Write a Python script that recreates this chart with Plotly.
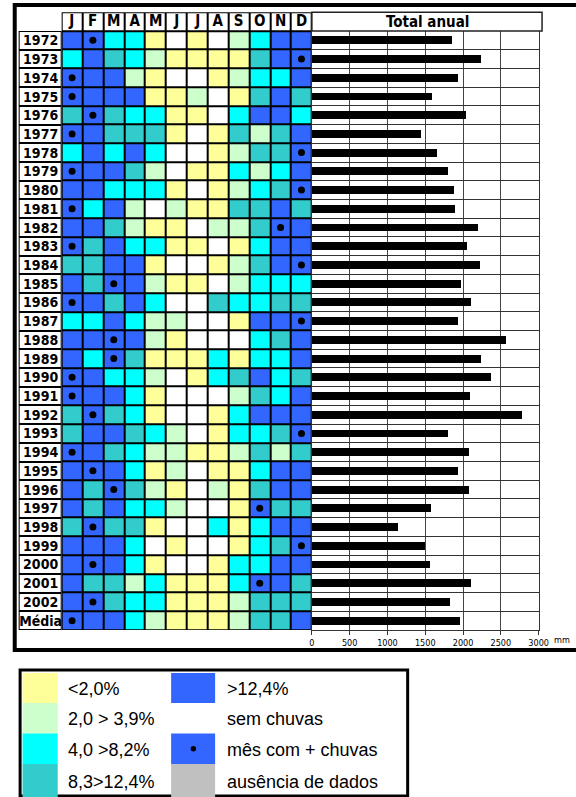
import plotly.graph_objects as go

years = ["1972", "1973", "1974", "1975", "1976", "1977", "1978", "1979", "1980",
         "1981", "1982", "1983", "1984", "1985", "1986", "1987", "1988", "1989",
         "1990", "1991", "1992", "1993", "1994", "1995", "1996", "1997", "1998",
         "1999", "2000", "2001", "2002", "Média"]
months = ["J", "F", "M", "A", "M", "J", "J", "A", "S", "O", "N", "D"]
# class per month: Y <2,0% | L 2,0>3,9% | C 4,0>8,2% | T 8,3>12,4% | B >12,4% | W sem chuvas
classes = [
    "BBCCYWYWLCBB", "CBTCLYYYYTBB", "BBBLYWWYLCCB", "BBBBYYLWYTBT",
    "TBTCCYYWCBBC", "BBTTTYWYTLTB", "CBCBCWWYLTTB", "BBBTLWYYCLCB",
    "BBCCCYWYLCTB", "BCBLWLYYTTBT", "BBTLYYWLLTBB", "BTBCCYYWYCBB",
    "TTBBYWWYLTBB", "BTBBLYYWLCCC", "BBTBCWWTCCTT", "CCBCLLWWYBBB",
    "BBBBLYWWWCTB", "BCBTYYYCYCCB", "BBCCLWYCTBCT", "BBBCYWWWLTCB",
    "TBTCYWWYCBBB", "TBBTCLWYCCTB", "BBTCLLYYLTLT", "BBBCYLWYYCBB",
    "BTBTLYWLYTBB", "BTBCCLWWYBTT", "TBTTYWWCYCBB", "BBBCWYWWYCTB",
    "BBBCYWWYCCBB", "BTTLCYYYCBBT", "BBTCCYYYLTTT", "BBBCLYYYLTTB",
]
# index of month with most rain (mês com + chuvas)
max_month = [1, 11, 0, 0, 1, 0, 11, 0, 11, 0, 10, 0, 11, 2, 0, 11,
             2, 2, 0, 0, 1, 11, 0, 1, 2, 9, 1, 11, 1, 9, 1, 0]
# Total anual (mm)
totals = [1849, 2240, 1926, 1587, 2034, 1436, 1655, 1793, 1875, 1888, 2201,
          2047, 2227, 1969, 2102, 1926, 2562, 2240, 2373, 2089, 2777, 1793,
          2072, 1926, 2072, 1573, 1139, 1500, 1561, 2102, 1831, 1956]
tick_vals = [0, 500, 1000, 1500, 2000, 2500, 3000]

class_codes = ["Y", "L", "C", "T", "B", "W"]
class_colors = ["#FFFF99", "#CCFFCC", "#00FFFF", "#33CCCC", "#3366FF", "#FFFFFF"]
legend_labels = ["<2,0%", "2,0 > 3,9%", "4,0 >8,2%", "8,3>12,4%",
                 ">12,4%", "sem chuvas", "mês com + chuvas", "ausência de dados"]
legend_colors = ["#FFFF99", "#CCFFCC", "#00FFFF", "#33CCCC",
                 "#3366FF", "#FFFFFF", "#3366FF", "#C0C0C0"]

W, H = 576, 797
NARROW = "Liberation Sans Narrow, Arial Narrow, DejaVu Sans Condensed, sans-serif"
SANS = "Liberation Sans, Arial, sans-serif"


def px(x):
    return x / W


def py(y):
    return 1 - y / H


n = len(years)
rows_idx = list(range(n))
z_grid = [[5] * 12] + [[class_codes.index(c) for c in row] for row in classes]
text_grid = [months] + [[""] * 12 for _ in classes]
y_grid = [-1] + rows_idx

k = len(class_colors)
colorscale = []
for i, c in enumerate(class_colors):
    colorscale += [[i / k, c], [(i + 1) / k, c]]

fig = go.Figure()

fig.add_trace(go.Heatmap(
    z=z_grid, x=list(range(12)), y=y_grid, text=text_grid,
    texttemplate="%{text}",
    textfont=dict(family=NARROW, size=15, color="black", weight="bold"),
    colorscale=colorscale, zmin=-0.5, zmax=k - 0.5, showscale=False,
    xgap=2, ygap=2, hoverinfo="skip", xaxis="x", yaxis="y"))

fig.add_trace(go.Scatter(
    x=max_month, y=rows_idx, mode="markers",
    marker=dict(size=7, color="black"), hoverinfo="skip",
    xaxis="x", yaxis="y", showlegend=False))

fig.add_trace(go.Heatmap(
    z=[[5] for _ in years], x=[0], y=rows_idx, text=[[y] for y in years],
    texttemplate="%{text}",
    textfont=dict(family=NARROW, size=14, color="black", weight="bold"),
    colorscale=colorscale, zmin=-0.5, zmax=k - 0.5, showscale=False,
    xgap=2, ygap=2, hoverinfo="skip", xaxis="x2", yaxis="y2"))

fig.add_trace(go.Bar(
    x=totals, y=rows_idx, orientation="h", marker=dict(color="black", line=dict(width=0)),
    width=0.42, hoverinfo="skip", xaxis="x3", yaxis="y3", showlegend=False))

top_hdr, top_rows, bottom = 12.2, 31, 630

shapes = [
    dict(type="rect", xref="x domain", yref="y domain", x0=0, x1=1, y0=0, y1=1,
         fillcolor="black", line=dict(width=0), layer="below"),
    dict(type="rect", xref="x2 domain", yref="y2 domain", x0=0, x1=1, y0=0, y1=1,
         fillcolor="black", line=dict(width=0), layer="below"),
    # header box "Total anual"
    dict(type="rect", xref="paper", yref="paper", x0=px(316), x1=px(551.5),
         y0=py(top_rows), y1=py(top_hdr), line=dict(color="#222", width=1.5),
         fillcolor="white"),
    # thick outer frame
    dict(type="rect", xref="paper", yref="paper", x0=px(12), x1=px(600),
         y0=py(650), y1=py(5), line=dict(color="black", width=4)),
    # legend box
    dict(type="rect", xref="paper", yref="paper", x0=px(17.5), x1=px(414),
         y0=py(796), y1=py(670), line=dict(color="black", width=3)),
]

annotations = [
    dict(text="Total anual", x=px(434), y=py(21.5), xref="paper", yref="paper",
         xanchor="center", yanchor="middle", showarrow=False,
         font=dict(family=NARROW, size=15, color="black", weight="bold")),
    dict(text="mm", x=px(562), y=py(640), xref="paper", yref="paper",
         xanchor="left", yanchor="middle", showarrow=False,
         font=dict(family=NARROW, size=9, color="black")),
]

# legend
row_edges = [673, 703, 733.5, 764, 797]
for i, (lab, col) in enumerate(zip(legend_labels, legend_colors)):
    c = i // 4
    r = i % 4
    x0, x1 = (20, 56) if c == 0 else (172, 217)
    y0, y1 = row_edges[r], row_edges[r + 1]
    if col.upper() != "#FFFFFF":
        shapes.append(dict(type="rect", xref="paper", yref="paper",
                           x0=px(x0), x1=px(x1), y0=py(y1), y1=py(y0),
                           fillcolor=col, line=dict(width=0)))
    if lab == "mês com + chuvas":
        shapes.append(dict(type="circle", xref="paper", yref="paper",
                           x0=px(192), x1=px(197.5), y0=py(751.5), y1=py(746),
                           fillcolor="black", line=dict(width=0)))
    annotations.append(dict(text=lab, x=px(64 if c == 0 else 227),
                            y=py((y0 + y1) / 2 + 1), xref="paper", yref="paper",
                            xanchor="left", yanchor="middle", showarrow=False,
                            font=dict(family=SANS, size=18, color="black")))

fig.update_layout(
    width=W, height=H, margin=dict(l=0, r=0, t=0, b=0),
    paper_bgcolor="white", plot_bgcolor="white", showlegend=False,
    bargap=0,
    xaxis=dict(domain=[px(60), px(316)], range=[-0.5, 11.5], visible=False,
               anchor="y", fixedrange=True),
    yaxis=dict(domain=[py(bottom), py(top_hdr)], range=[n - 0.5, -1.5],
               visible=False, anchor="x", fixedrange=True),
    xaxis2=dict(domain=[px(16), px(60)], range=[-0.5, 0.5], visible=False,
                anchor="y2", fixedrange=True),
    yaxis2=dict(domain=[py(bottom), py(top_rows)], range=[n - 0.5, -0.5],
                visible=False, anchor="x2", fixedrange=True),
    xaxis3=dict(domain=[px(316), px(548)], range=[0, 3000], anchor="y3",
                tickvals=tick_vals, ticktext=[str(v) for v in tick_vals],
                showgrid=True, gridcolor="#444", gridwidth=1, zeroline=False,
                ticks="outside", ticklen=4, tickcolor="#333",
                tickfont=dict(family=NARROW, size=9, color="black"),
                showline=True, mirror=True, linecolor="#333", linewidth=1,
                fixedrange=True),
    yaxis3=dict(domain=[py(bottom), py(top_rows)], range=[n - 0.5, -0.5],
                anchor="x3", tickvals=[i - 0.5 for i in range(n + 1)],
                showticklabels=False, ticks="", showgrid=True, gridcolor="#333",
                gridwidth=1, zeroline=False, showline=True, mirror=True,
                linecolor="#333", fixedrange=True),
    shapes=shapes, annotations=annotations,
)

fig.write_html("out.html", config={"displayModeBar": False},
               post_script="document.body.style.margin='0px';")
